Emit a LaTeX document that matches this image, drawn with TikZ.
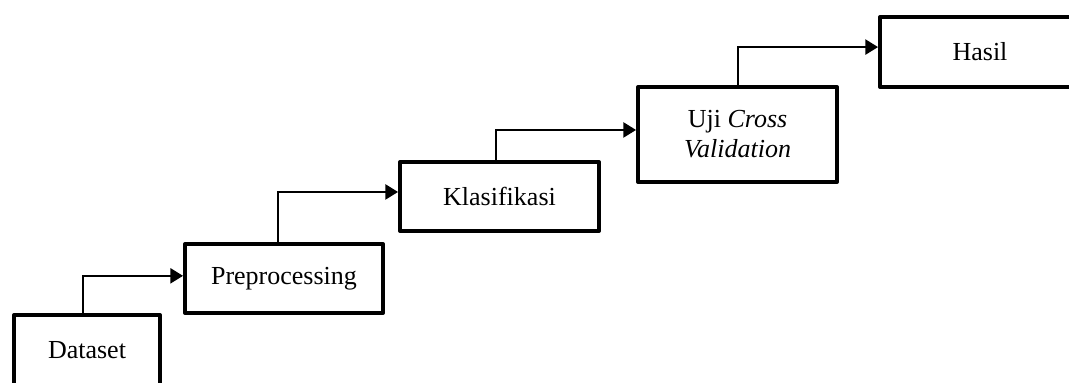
\documentclass[tikz,border=0pt]{standalone}
\usepackage{fontspec}
\setmainfont{Liberation Serif}
\usetikzlibrary{arrows.meta}
\begin{document}
\begin{tikzpicture}[x=0.75pt,y=-0.75pt,
  stepbox/.style={draw, line width=3pt, line join=round, inner sep=0pt, align=center,
    font=\fontsize{19.5}{22.5}\selectfont},
  conn/.style={line width=1pt, -{Triangle[length=9.5pt,width=11.5pt]}}]
\useasboundingbox (0,0) rectangle (1069,382);
\clip (0,0) rectangle (1069,382);
\node[stepbox, minimum width=146*0.75pt, minimum height=70*0.75pt] (ds) at (87,350) {\raisebox{-3.5pt}{Dataset}};
\node[stepbox, minimum width=198*0.75pt, minimum height=69*0.75pt] (pp) at (284,278.5) {Preprocessing};
\node[stepbox, minimum width=199*0.75pt, minimum height=69*0.75pt] (kl) at (499.5,196.5) {Klasifikasi};
\node[stepbox, minimum width=199*0.75pt, minimum height=95*0.75pt] (uj) at (737.5,134.5) {\raisebox{-2pt}{Uji \textit{Cross}}\\\raisebox{-2pt}{\textit{Validation}}};
\node[stepbox, minimum width=200*0.75pt, minimum height=70*0.75pt] (ha) at (980,52) {Hasil};
\draw[conn] ([xshift=-3pt]ds.north) |- ([yshift=2pt]pp.west);
\draw[conn] ([xshift=-4.5pt]pp.north) |- ([yshift=3.4pt]kl.west);
\draw[conn] ([xshift=-2.6pt]kl.north) |- ([yshift=3.4pt]uj.west);
\draw[conn] ([xshift=0.4pt]uj.north) |- ([yshift=3.7pt]ha.west);
\end{tikzpicture}
\end{document}
